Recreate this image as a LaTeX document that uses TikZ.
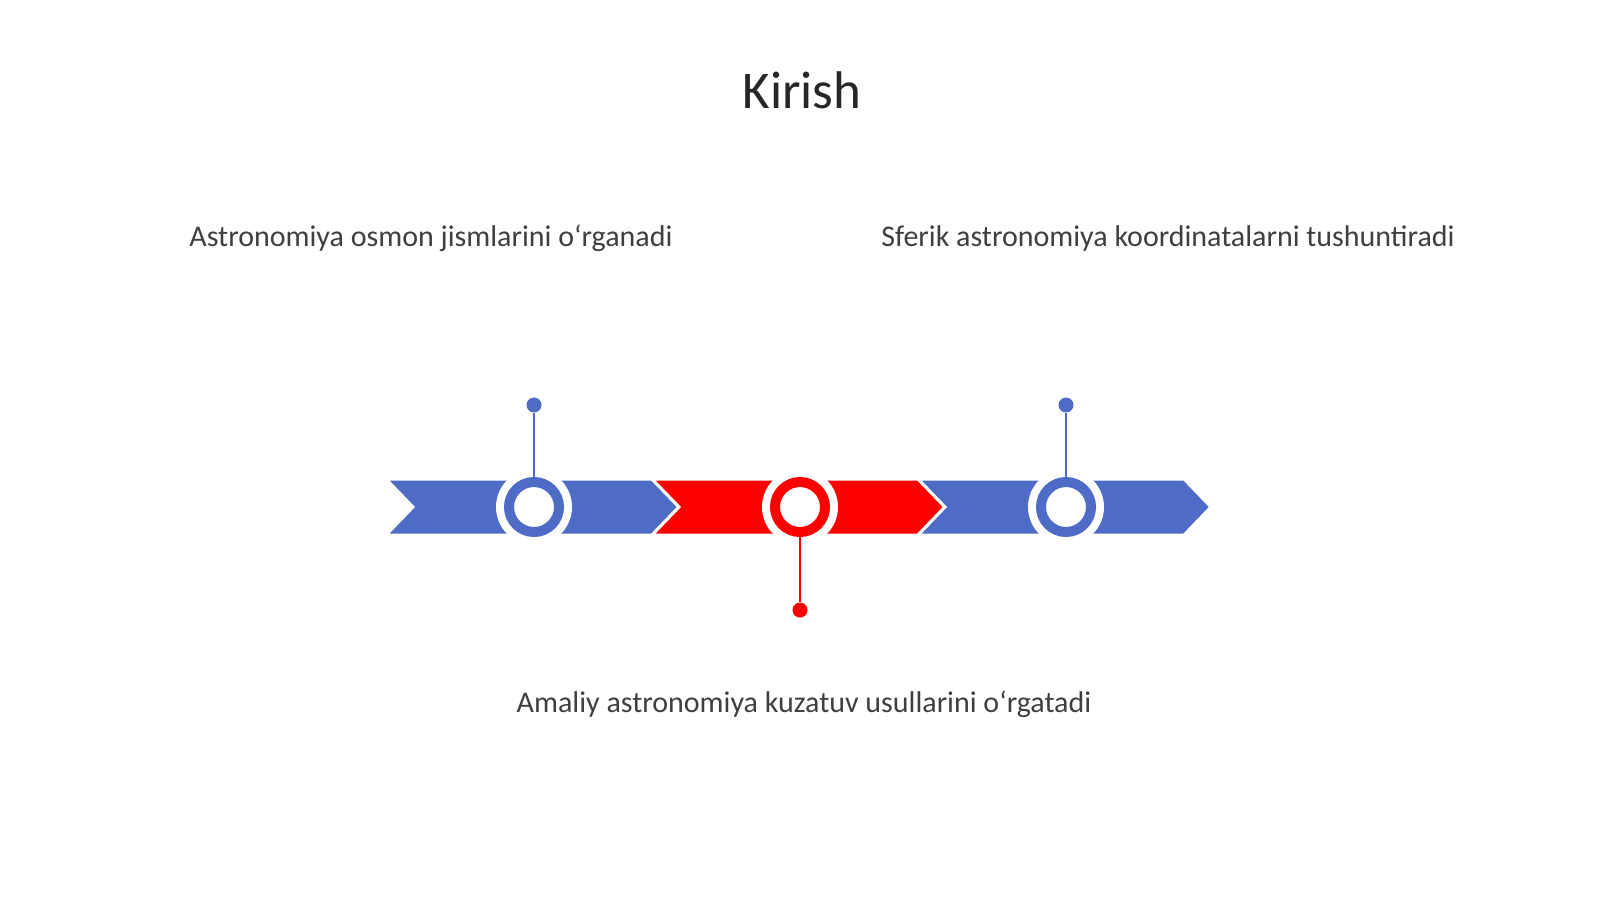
\documentclass[tikz,border=0pt]{standalone}
\usepackage{fontspec}
\setmainfont{Carlito}
\definecolor{segblue}{HTML}{4E6BC6}
\definecolor{segred}{HTML}{FF0000}
\definecolor{titlecol}{HTML}{262626}
\definecolor{textcol}{HTML}{3F3F3F}
\begin{document}
\begin{tikzpicture}[x=1pt,y=-1pt,
  segshape/.style={draw=white, line width=3pt, line join=miter},
  halo/.style={circle, fill=white, minimum size=76pt, inner sep=0pt},
  ringnode/.style={circle, draw=#1, fill=white, line width=10pt, minimum size=50pt, inner sep=0pt},
  pindot/.style={circle, fill=#1, minimum size=15pt, inner sep=0pt},
  pinline/.style={draw=#1, line width=2.6pt},
  lbl/.style={text=textcol, font=\fontsize{30}{36}\selectfont, inner sep=0pt, anchor=base}
]
\useasboundingbox (0,0) rectangle (1600,899);
% title
\node[text=titlecol, font=\fontsize{53}{62}\selectfont, inner sep=0pt, anchor=base] (title) at (802,108) {Kirish};
% labels
\node[lbl] (t1) at (431,246) {Astronomiya osmon jismlarini o‘rganadi};
\node[lbl] (t2) at (1168,246) {Sferik astronomiya koordinatalarni tushuntiradi};
\node[lbl] (t3) at (804,712) {Amaliy astronomiya kuzatuv usullarini o‘rgatadi};
% chevron band
\foreach \i/\c in {0/segblue,1/segred,2/segblue}{
  \pgfmathsetmacro\xa{386+266*\i}
  \fill[segshape, fill=\c] (\xa,479) -- ++(266,0) -- ++(27,28) -- ++(-27,28) -- ++(-266,0) -- ++(27,-28) -- cycle;
}
% halos
\node[halo] (h1) at (534,507) {};
\node[halo] (h2) at (800,507) {};
\node[halo] (h3) at (1066,507) {};
% pin dots
\node[pindot=segblue] (p1) at (534,405) {};
\node[pindot=segred] (p2) at (800,610) {};
\node[pindot=segblue] (p3) at (1066,405) {};
% rings
\coordinate (c1) at (534,507);
\coordinate (c2) at (800,507);
\coordinate (c3) at (1066,507);
\draw[pinline=segblue] (p1) -- (c1);
\draw[pinline=segred] (p2) -- (c2);
\draw[pinline=segblue] (p3) -- (c3);
\node[ringnode=segblue] (r1) at (c1) {};
\node[ringnode=segred] (r2) at (c2) {};
\node[ringnode=segblue] (r3) at (c3) {};
\end{tikzpicture}
\end{document}
